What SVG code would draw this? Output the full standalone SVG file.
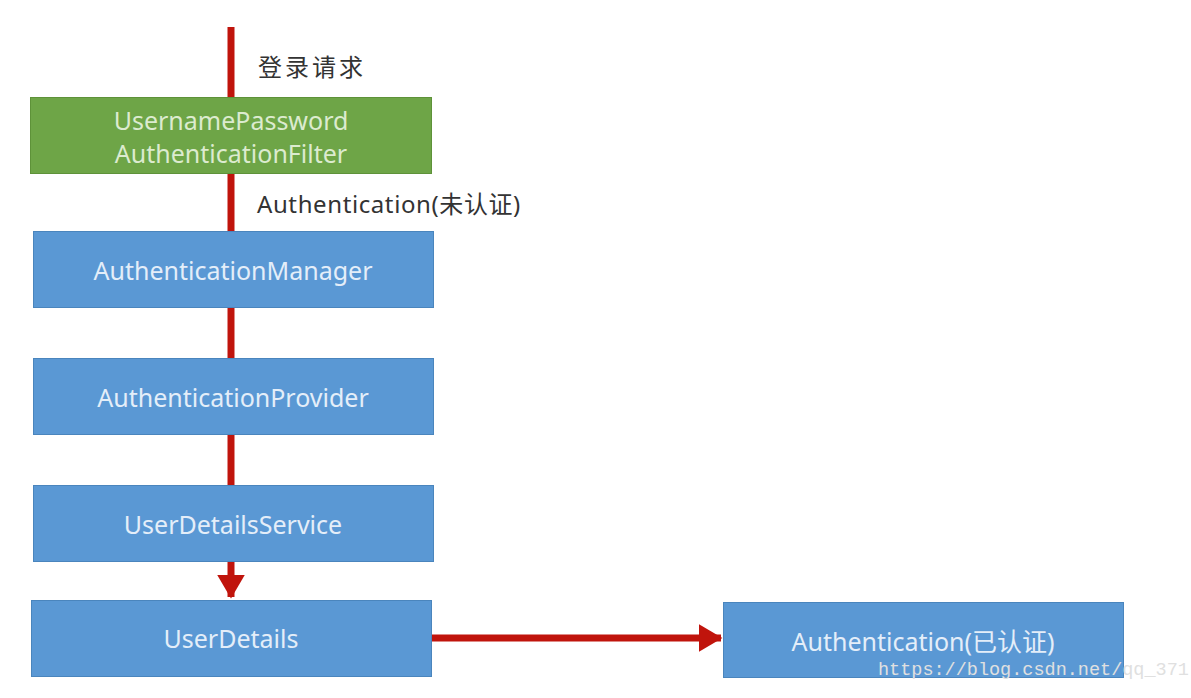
<svg xmlns="http://www.w3.org/2000/svg" width="1191" height="698" viewBox="0 0 1191 698">
<style>
.box{fill:#5a98d4;stroke:#4a85bd;stroke-width:1}
.green{fill:#6ea547;stroke:#5e9239;stroke-width:1}
.bt{font-family:"Noto Sans","Noto Sans CJK SC",sans-serif;font-size:25px;fill:#e4eef9;text-anchor:middle;dominant-baseline:central}
.gt{fill:#dcebcf}
.lbl{font-family:"Noto Sans","Noto Sans CJK SC",sans-serif;font-size:24px;fill:#333}
.wire{stroke:#c0140c;stroke-width:7;fill:none}
.wm{font-family:"Liberation Mono","Noto Sans CJK SC",monospace;font-size:18.5px;fill:#e0e0e0}
</style>
<defs>
<marker id="ah" markerWidth="4" markerHeight="4" refX="3.2" refY="2" orient="auto" markerUnits="strokeWidth">
<path d="M0,0 L3.4,2 L0,4 Z" fill="#c0140c"/>
</marker>
</defs>
<rect width="1191" height="698" fill="#ffffff"/>
<g id="connectors">
<line class="wire" x1="231" y1="27" x2="231" y2="232"/>
<line class="wire" x1="231" y1="308" x2="231" y2="359"/>
<line class="wire" x1="231" y1="435" x2="231" y2="486"/>
<line class="wire" x1="231" y1="562" x2="231" y2="597" marker-end="url(#ah)"/>
<line class="wire" x1="432" y1="638" x2="721" y2="638" marker-end="url(#ah)"/>
</g>
<g id="label-login"><text class="lbl" x="258" y="76" letter-spacing="3">登录请求</text></g>
<g id="label-unauth"><text class="lbl" x="257" y="213" letter-spacing="0.6">Authentication(未认证)</text></g>
<g id="filter">
<rect class="green" x="30.5" y="97.5" width="401" height="76"/>
<text class="bt gt" x="231" y="120">UsernamePassword</text>
<text class="bt gt" x="231" y="153">AuthenticationFilter</text>
</g>
<g id="manager">
<rect class="box" x="33.5" y="231.5" width="400" height="76"/>
<text class="bt" x="233" y="270">AuthenticationManager</text>
</g>
<g id="provider">
<rect class="box" x="33.5" y="358.5" width="400" height="76"/>
<text class="bt" x="233" y="397">AuthenticationProvider</text>
</g>
<g id="uds">
<rect class="box" x="33.5" y="485.5" width="400" height="76"/>
<text class="bt" x="233" y="524">UserDetailsService</text>
</g>
<g id="userdetails">
<rect class="box" x="31.5" y="600.5" width="400" height="76"/>
<text class="bt" x="231" y="638">UserDetails</text>
</g>
<g id="authenticated">
<rect class="box" x="723.5" y="602.5" width="400" height="75"/>
<text class="bt" x="923" y="641">Authentication(已认证)</text>
</g>
<text class="wm" x="878" y="675">https://blog.csdn.net/qq_371</text>
</svg>
